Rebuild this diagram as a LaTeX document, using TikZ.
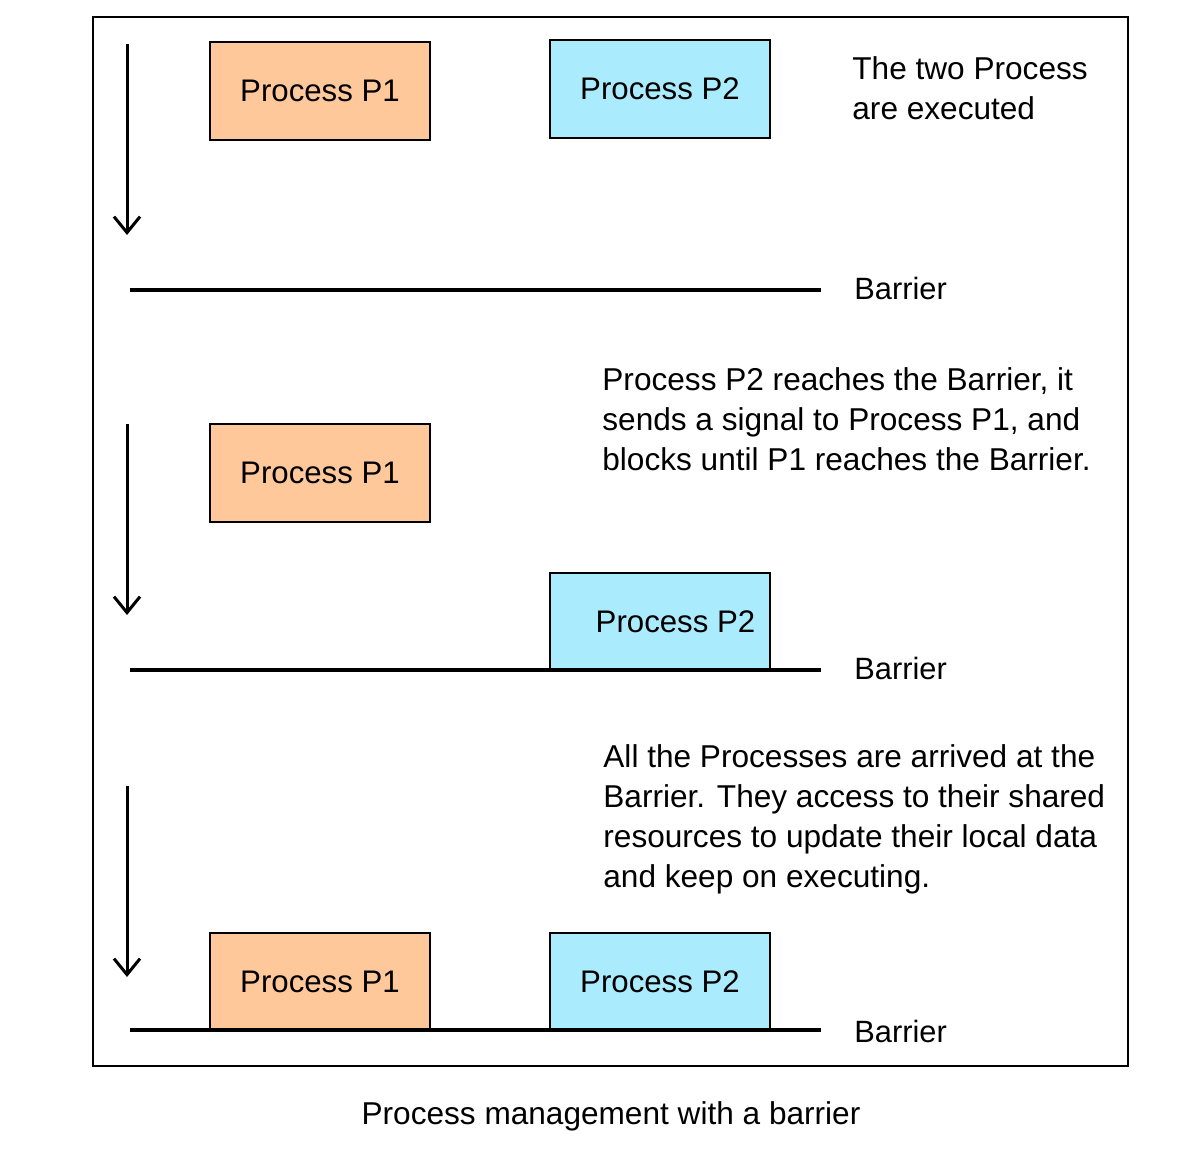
\documentclass[tikz,border=0pt]{standalone}
\usepackage{fontspec}
\setmainfont{Liberation Sans}
\usetikzlibrary{arrows.meta}
\definecolor{porange}{HTML}{FFC89B}
\definecolor{pcyan}{HTML}{AAEBFD}
\tikzset{
  pbox/.style={draw=black, line width=1pt, minimum width=110pt, minimum height=49pt, inner sep=0pt, font=\fontsize{15.6}{18}\selectfont},
  p1/.style={pbox, fill=porange},
  p2/.style={pbox, fill=pcyan},
  timearrow/.style={line width=1.5pt, -{Straight Barb[length=8pt,width=13pt,line width=1.5pt]}},
  barrier/.style={line width=1.8pt},
  lbl/.style={inner sep=0pt, anchor=north west, align=left, font=\fontsize{15.8}{20}\selectfont},
  barlbl/.style={inner sep=0pt, anchor=west, font=\fontsize{15.4}{18}\selectfont},
}
\begin{document}
\begin{tikzpicture}[x=0.5pt,y=-0.5pt]
\useasboundingbox (0,0) rectangle (1182,1154);
\node[draw=black, line width=1pt, minimum width=517.5pt, minimum height=524.5pt, inner sep=0pt, anchor=north west] (frame) at (92,16) {};
% stage 1
\coordinate (a1s) at (127,44); \coordinate (a1e) at (127,235);
\draw[timearrow] (a1s) -- (a1e);
\node[p1, anchor=north west] (p1a) at (209,41) {Process P1};
\node[p2, anchor=north west] (p2a) at (549,39) {Process P2};
\coordinate (b1s) at (130,290); \coordinate (b1e) at (821,290);
\draw[barrier] (b1s) -- (b1e);
\node[barlbl] (bl1) at (854,288) {Barrier};
\node[lbl] (t1) at (852,56) {The two Process\\are executed};
% stage 2
\coordinate (a2s) at (127,424); \coordinate (a2e) at (127,615);
\draw[timearrow] (a2s) -- (a2e);
\node[p1, anchor=north west] (p1b) at (209,423) {Process P1};
\node[p2, anchor=north west] (p2b) at (549,572) {\hspace*{15.5pt}Process P2};
\coordinate (b2s) at (130,670); \coordinate (b2e) at (821,670);
\draw[barrier] (b2s) -- (b2e);
\node[barlbl] (bl2) at (854,668) {Barrier};
\node[lbl] (t2) at (602,367) {Process P2 reaches the Barrier, it\\sends a signal to Process P1, and\\blocks until P1 reaches the Barrier.};
% stage 3
\coordinate (a3s) at (127,786); \coordinate (a3e) at (127,977);
\draw[timearrow] (a3s) -- (a3e);
\node[p1, anchor=north west] (p1c) at (209,932) {Process P1};
\node[p2, anchor=north west] (p2c) at (549,932) {Process P2};
\coordinate (b3s) at (130,1030); \coordinate (b3e) at (821,1030);
\draw[barrier] (b3s) -- (b3e);
\node[barlbl] (bl3) at (854,1031) {Barrier};
\node[lbl] (t3) at (603,744) {All the Processes are arrived at the\\Barrier. They access to their shared\\resources to update their local data\\and keep on executing.};
% caption
\node[font=\fontsize{15.8}{18}\selectfont, inner sep=0pt] (cap) at (611,1116) {Process management with a barrier};
\end{tikzpicture}
\end{document}
